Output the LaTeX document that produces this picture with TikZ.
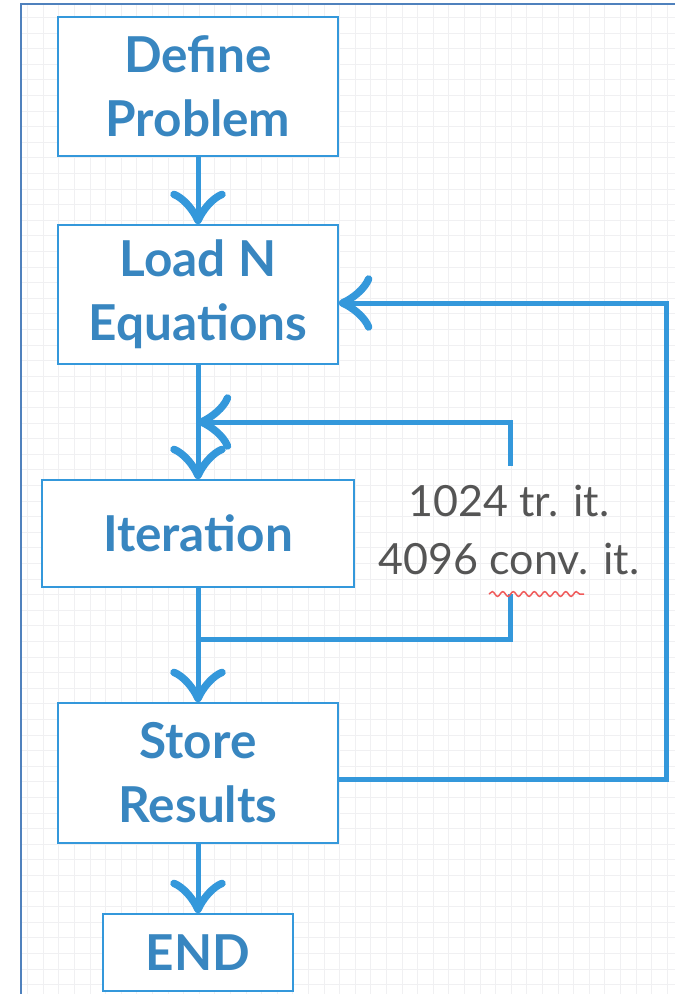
\documentclass[tikz,border=0pt]{standalone}
\usepackage{fontspec}
\setmainfont{Lato}
\usetikzlibrary{arrows.meta,calc,decorations.pathmorphing}
\definecolor{lineblue}{RGB}{52,152,219}
\definecolor{textblue}{RGB}{56,134,192}
\definecolor{framecol}{RGB}{79,129,189}
\definecolor{gridcol}{RGB}{240,240,242}
\definecolor{labelgray}{RGB}{85,85,85}
\definecolor{squiggle}{RGB}{240,90,90}
\pgfdeclarearrow{
  name = MyBarb,
  setup code = {
    \pgfarrowssettipend{3.5pt}
    \pgfarrowssetlineend{-4pt}
    \pgfarrowssetbackend{-31pt}
    \pgfarrowshullpoint{3.5pt}{0pt}
    \pgfarrowsupperhullpoint{-31pt}{29pt}
  },
  drawing code = {
    \pgfsetlinewidth{7.5pt}
    \pgfsetroundcap
    \pgfsetroundjoin
    \pgfpathmoveto{\pgfqpoint{-26pt}{24pt}}
    \pgfpathcurveto{\pgfqpoint{-22pt}{14pt}}{\pgfqpoint{-10pt}{4.5pt}}{\pgfqpoint{0pt}{0pt}}
    \pgfpathcurveto{\pgfqpoint{-10pt}{-4.5pt}}{\pgfqpoint{-22pt}{-14pt}}{\pgfqpoint{-26pt}{-24pt}}
    \pgfusepathqstroke
  }
}
\tikzset{
  box/.style={draw=lineblue, line width=2.2pt, rectangle, inner sep=0pt, fill=white,
    text=textblue, font=\bfseries\fontsize{49.5}{64}\selectfont, align=center},
  conn/.style={draw=lineblue, line width=5pt, -{MyBarb}},
  plainconn/.style={draw=lineblue, line width=5pt},
  lbl/.style={text=labelgray, font=\fontsize{43}{58}\selectfont, align=center, inner sep=0pt}
}
\begin{document}
\begin{tikzpicture}[x=1pt,y=-1pt]
\useasboundingbox (0,0) rectangle (675,994);
\fill[white] (0,0) rectangle (675,994);
% grid
\foreach \i in {0,...,41} {\draw[gridcol, line width=1pt] (27.6+15.6*\i,5) -- (27.6+15.6*\i,994);}
\foreach \j in {0,...,62} {\draw[gridcol, line width=1pt] (22,17.4+15.6*\j) -- (675,17.4+15.6*\j);}
% frame
\draw[framecol, line width=2.5pt] (21,994) -- (21,4) -- (675,4);

% nodes
\node[box, minimum width=280pt, minimum height=139pt] (b1) at (198,86.5) {Define\\Problem};
\node[box, minimum width=280pt, minimum height=139pt] (b2) at (198,294.5) {Load N\\Equations};
\node[box, minimum width=312pt, minimum height=107pt] (b3) at (198,533.5) {Iteration};
\node[box, minimum width=280pt, minimum height=140pt] (b4) at (198,773) {Store\\Results};
\node[box, minimum width=190pt, minimum height=77pt] (b5) at (198,952.5) {END};
\node[lbl, minimum height=128pt] (lab) at (509,530) {1024 tr. it.\\4096 conv. it.};

\coordinate (j1) at (198,639);
\coordinate (j2) at (198,422);

% connectors
\draw[conn] (b1.south) -- (b2.north);
\draw[conn] (b2.south) -- (b3.north);
\draw[conn] (b3.south) -- (b4.north);
\draw[conn] (b4.south) -- (b5.north);
\draw[plainconn, line join=miter] (j1) -- ([xshift=1pt]j1 -| lab.south) -- ([xshift=1pt]lab.south);
\draw[conn, line join=miter] ([xshift=1pt]lab.north) -- ([xshift=1pt]j2 -| lab.north) -- (j2);
\draw[conn, line join=miter] ([yshift=-6pt]b4.east) -- ++(327,0) |- ([yshift=-8.5pt]b2.east);

% spell-check squiggle
\draw[squiggle, line width=1.5pt, decorate, decoration={snake, amplitude=2.4pt, segment length=10.5pt}] (489,594) -- (584,594);
\end{tikzpicture}
\end{document}
